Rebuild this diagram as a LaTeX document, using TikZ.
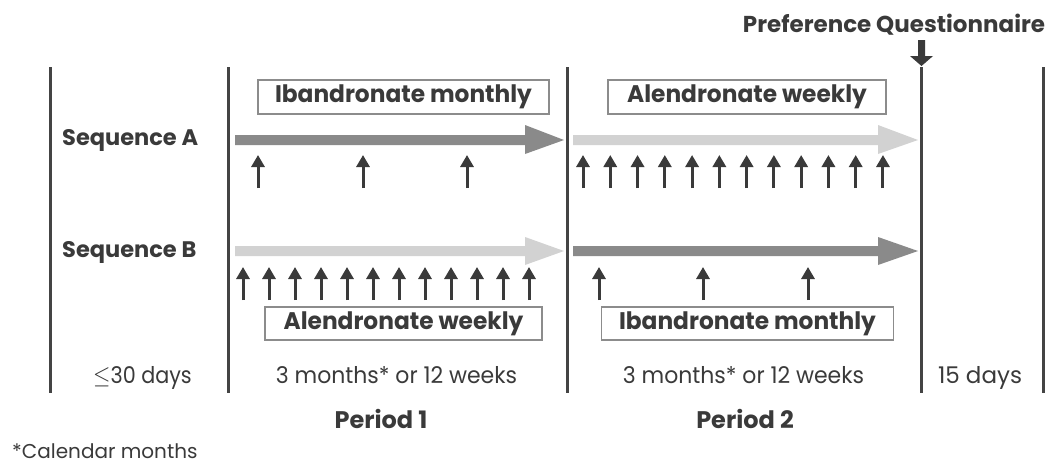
\documentclass[tikz,border=0pt]{standalone}
\usepackage{fontspec}
\setmainfont{Poppins}
\usetikzlibrary{arrows.meta}
\definecolor{ink}{HTML}{3A3A3A}
\definecolor{rule}{HTML}{444444}
\definecolor{darkarr}{HTML}{8A8A8A}
\definecolor{lightarr}{HTML}{D2D2D2}
\definecolor{boxline}{HTML}{8C8C8C}
\tikzset{
  vline/.style={draw=rule, line width=3pt},
  tick/.style={draw=ink, line width=3pt, -{Triangle[width=13pt,length=12pt]}},
  drug/.style={draw=boxline, line width=1.5pt, fill=white, inner sep=0pt, font=\fontsize{24}{24}\selectfont\bfseries, text=ink},
  seqlab/.style={anchor=base west, inner sep=0pt, font=\fontsize{22.5}{23}\selectfont\bfseries, text=ink},
  durlab/.style={anchor=base, inner sep=0pt, font=\fontsize{23}{23}\selectfont, text=ink},
  perlab/.style={anchor=base, inner sep=0pt, font=\fontsize{24}{24}\selectfont\bfseries, text=ink},
}
\begin{document}
\begin{tikzpicture}[x=1pt,y=-1pt]
\useasboundingbox[fill=white] (0,0) rectangle (1050,467);
% vertical lines
\foreach \n/\x in {l0/50,l1/228,l2/567,l3/921,l4/1043}{
  \coordinate (\n t) at (\x,67);
  \coordinate (\n b) at (\x,393);
  \draw[vline] (\n t) -- (\n b);
}
% questionnaire
\node[anchor=base, inner sep=0pt, font=\fontsize{23}{23}\selectfont\bfseries, text=ink] (pq) at (894,32) {Preference Questionnaire};
\fill[ink] (918,40) -- (925,40) -- (925,56) -- (933,56) -- (921.5,66) -- (910,56) -- (918,56) -- cycle;
% boxes
\node[drug, minimum width=291pt, minimum height=34pt] (b1) at (403.5,97) {\scalebox{0.97}[1]{Ibandronate monthly}};
\node[drug, minimum width=278pt, minimum height=34pt] (b2) at (747,97) {\scalebox{0.97}[1]{Alendronate weekly}};
\node[drug, minimum width=277pt, minimum height=33pt] (b3) at (403.5,323.5) {\scalebox{0.97}[1]{Alendronate weekly}};
\node[drug, minimum width=292pt, minimum height=33pt] (b4) at (747.5,323.5) {\scalebox{0.97}[1]{Ibandronate monthly}};
% sequence labels
\node[seqlab] (sa) at (62,145) {Sequence A};
\node[seqlab] (sb) at (62,257) {Sequence B};
% big arrows
\fill[darkarr] (235,135) -- (525,135) -- (525,125) -- (564,140) -- (525,154) -- (525,145) -- (235,145) -- cycle;
\fill[lightarr] (573,135) -- (878,135) -- (878,125) -- (918,140) -- (878,154) -- (878,145) -- (573,145) -- cycle;
\fill[lightarr] (235,246) -- (525,246) -- (525,237) -- (564,251) -- (525,265) -- (525,256) -- (235,256) -- cycle;
\fill[darkarr] (573,246) -- (878,246) -- (878,237) -- (918,251) -- (878,265) -- (878,256) -- (573,256) -- cycle;
% monthly doses
\foreach \x in {258,363,467}{\draw[tick] (\x,188) -- (\x,155);}
\foreach \x in {599,703,808}{\draw[tick] (\x,300) -- (\x,267);}
% weekly doses
\foreach \i in {0,...,11}{
  \draw[tick] ({583+27.27*\i},188) -- ({583+27.27*\i},155);
  \draw[tick] ({243+26.0*\i},300) -- ({243+26.0*\i},267);
}
% durations
\node[durlab] (d0) at (142.5,383) {\scalebox{0.9}[1]{$\leq$30 days}};
\node[durlab] (d1) at (396.5,383) {\scalebox{0.955}[1]{3 months* or 12 weeks}};
\node[durlab] (d2) at (743.5,383) {\scalebox{0.955}[1]{3 months* or 12 weeks}};
\node[durlab] (d3) at (980,383) {15 days};
\node[perlab] (p1) at (381,428) {Period 1};
\node[perlab] (p2) at (745,428) {Period 2};
\node[anchor=base west, inner sep=0pt, font=\fontsize{20}{20}\selectfont, text=ink] (cm) at (12,458) {*Calendar months};
\end{tikzpicture}
\end{document}
